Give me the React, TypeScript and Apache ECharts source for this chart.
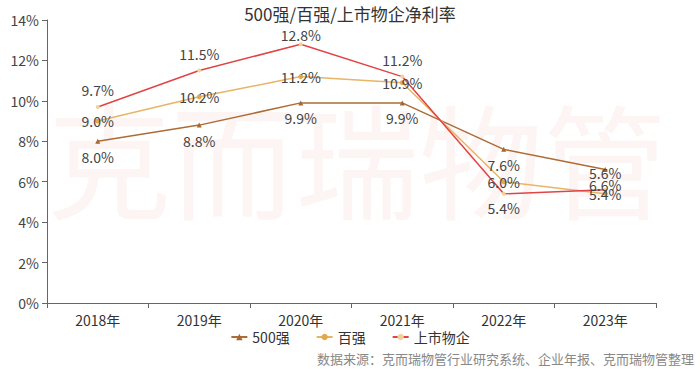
import React, { useEffect, useRef } from "react";
import * as echarts from "echarts";

const categories = ["2018年", "2019年", "2020年", "2021年", "2022年", "2023年"];
const top500 = [8.0, 8.8, 9.9, 9.9, 7.6, 6.6];
const top100 = [9.0, 10.2, 11.2, 10.9, 6.0, 5.4];
const listed = [9.7, 11.5, 12.8, 11.2, 5.4, 5.6];
const listedLabelPos = ["top", "top", "top", "top", "bottom", "top"];
const listedLabelDist = [8, 8, 0, 8, 5, 8];
const yTicks = [0, 2, 4, 6, 8, 10, 12, 14];

export default function App() {
  const ref = useRef<HTMLDivElement>(null);
  useEffect(() => {
    if (!ref.current) return;
    const chart = echarts.init(ref.current, null, { renderer: "svg" });
    const font = "'Noto Sans CJK SC', 'Noto Sans', sans-serif";
    const labelStyle = { color: "#444", fontSize: 14, fontFamily: font };
    chart.setOption({
      animation: false,
      backgroundColor: "#fff",
      title: {
        text: "500强/百强/上市物企净利率",
        left: "center",
        top: 0,
        textStyle: { color: "#333", fontSize: 17, fontWeight: "normal", fontFamily: font },
      },
      graphic: [
        {
          type: "text",
          left: 47,
          top: 94,
          z: -10,
          silent: true,
          style: {
            text: "克而瑞物管",
            fontSize: 124,
            fontFamily: font,
            fill: "rgba(225, 60, 60, 0.055)",
          },
        },
        {
          type: "text",
          right: 6,
          bottom: 4,
          style: {
            text: "数据来源：克而瑞物管行业研究系统、企业年报、克而瑞物管整理",
            fontSize: 13,
            fontFamily: font,
            fill: "#888",
          },
        },
      ],
      legend: {
        bottom: 20,
        left: "center",
        itemWidth: 16,
        itemHeight: 8,
        itemGap: 26,
        textStyle: { color: "#333", fontSize: 14, fontFamily: font },
        data: ["500强", "百强", "上市物企"],
      },
      grid: { left: 47, right: 44, top: 20, bottom: 66, containLabel: false },
      xAxis: {
        type: "category",
        data: categories,
        boundaryGap: true,
        axisLine: { lineStyle: { color: "#666" } },
        axisTick: { show: true, length: 5, lineStyle: { color: "#666" } },
        axisLabel: { color: "#333", fontSize: 14, fontFamily: font, margin: 10 },
      },
      yAxis: {
        type: "value",
        min: yTicks[0],
        max: yTicks[yTicks.length - 1],
        interval: 2,
        splitLine: { show: false },
        axisLine: { show: true, lineStyle: { color: "#666" } },
        axisTick: { show: true, length: 5, lineStyle: { color: "#666" } },
        axisLabel: { color: "#444", fontSize: 14, fontFamily: font, formatter: "{value}%", margin: 8 },
      },
      series: [
        {
          name: "500强",
          type: "line",
          data: top500,
          symbol: "triangle",
          symbolSize: 5,
          itemStyle: { color: "#A8662E" },
          lineStyle: { color: "#AD6C36", width: 1.5 },
          label: { show: true, position: "bottom", distance: 6, formatter: (p: any) => p.value.toFixed(1) + "%", ...labelStyle },
        },
        {
          name: "百强",
          type: "line",
          data: top100,
          symbol: "circle",
          symbolSize: 5,
          itemStyle: { color: "#E2A94F" },
          lineStyle: { color: "#E8B466", width: 1.5 },
          label: { show: true, position: "inside", formatter: (p: any) => p.value.toFixed(1) + "%", ...labelStyle },
        },
        {
          name: "上市物企",
          type: "line",
          data: listed.map((v, i) => ({
            value: v,
            label: { position: listedLabelPos[i], distance: listedLabelDist[i] },
          })),
          symbol: "circle",
          symbolSize: 4,
          itemStyle: { color: "#F3D29A" },
          lineStyle: { color: "#E04444", width: 1.5 },
          label: { show: true, formatter: (p: any) => p.value.toFixed(1) + "%", ...labelStyle },
        },
      ],
    });
    return () => chart.dispose();
  }, []);
  return <div ref={ref} style={{ width: 700, height: 369, position: "absolute", left: 0, top: 0 }} />;
}
